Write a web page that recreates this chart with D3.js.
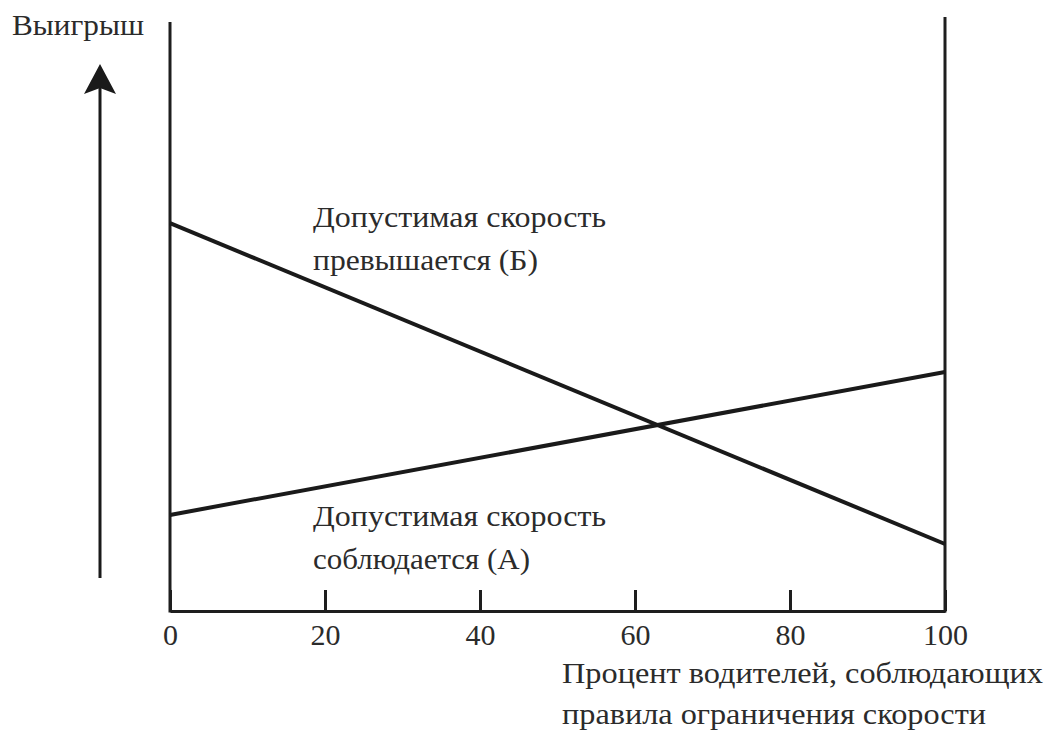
<!DOCTYPE html>
<html>
<head>
<meta charset="utf-8">
<script src="https://cdn.jsdelivr.net/npm/d3@7"></script>
<style>
  body { margin: 0; background: #fff; }
  text { font-family: "Liberation Serif", "DejaVu Serif", serif; fill: #2b2b2b; }
</style>
</head>
<body>
<div id="chart"></div>
<script>
// percent of drivers who obey the speed limit
const share = [0, 100];
const xTicks = [0, 20, 40, 60, 80, 100];
// payoff (arbitrary units) for the two strategies
const exceedPayoff = [65.4, 11.3]; // Б
const obeyPayoff = [16.2, 40.3];   // А
const lineNames = [
  ["Допустимая скорость", "превышается (Б)"],
  ["Допустимая скорость", "соблюдается (А)"]
];
const yTitle = "Выигрыш";
const xTitle = ["Процент водителей, соблюдающих", "правила ограничения скорости"];

const width = 1047, height = 734;

const svg = d3.select("#chart")
  .append("svg")
  .attr("width", width)
  .attr("height", height);

const x = d3.scaleLinear().domain([0, 100]).range([170, 945]);
const y = d3.scaleLinear().domain([0, 100]).range([611, 18]);

// x axis with ticks pointing up
const xAxis = svg.append("g")
  .attr("transform", "translate(0," + y(0) + ")")
  .call(d3.axisBottom(x).tickValues(xTicks).tickSizeInner(-21).tickSizeOuter(0).tickPadding(13));
xAxis.select(".domain").attr("stroke", "#1e1e1e").attr("stroke-width", 3);
xAxis.selectAll(".tick line").attr("stroke", "#1e1e1e").attr("stroke-width", 3);
xAxis.selectAll(".tick text")
  .attr("font-family", "Liberation Serif")
  .attr("font-size", 30)
  .attr("fill", "#2b2b2b");

// vertical frame lines at 0 and 100
svg.selectAll(".vline")
  .data(share)
  .enter().append("line")
  .attr("class", "vline")
  .attr("x1", d => x(d)).attr("x2", d => x(d))
  .attr("y1", (d, i) => y(100) + (i === 0 ? 4 : -1))
  .attr("y2", y(0) + 1.5)
  .attr("stroke", "#1e1e1e")
  .attr("stroke-width", 3);

// payoff lines
const line = d3.line()
  .x((d, i) => x(share[i]))
  .y(d => y(d));

[exceedPayoff, obeyPayoff].forEach(vals => {
  svg.append("path")
    .datum(vals)
    .attr("fill", "none")
    .attr("stroke", "#1a1a1a")
    .attr("stroke-width", 4)
    .attr("d", line);
});

// multi-line text block, each line stretched to the reference width
function textBlock(lines, x0, baselines, widths, size) {
  lines.forEach((s, j) => {
    svg.append("text")
      .attr("x", x0)
      .attr("y", baselines[j])
      .attr("font-size", size)
      .attr("textLength", widths[j])
      .attr("lengthAdjust", "spacingAndGlyphs")
      .text(s);
  });
}

textBlock(lineNames[0], 313, [227, 270], [293, 225], 29);
textBlock(lineNames[1], 313, [526, 569], [293, 217], 29);

// payoff arrow
svg.append("line")
  .attr("x1", 100).attr("x2", 100)
  .attr("y1", 578).attr("y2", 88)
  .attr("stroke", "#1a1a1a")
  .attr("stroke-width", 3);
svg.append("path")
  .attr("d", "M100,64 L116,94 L100,88 L84,94 Z")
  .attr("fill", "#1a1a1a");

textBlock([yTitle], 12, [35], [132], 29);
textBlock(xTitle, 562, [683, 724], [481, 424], 30);
</script>
</body>
</html>
